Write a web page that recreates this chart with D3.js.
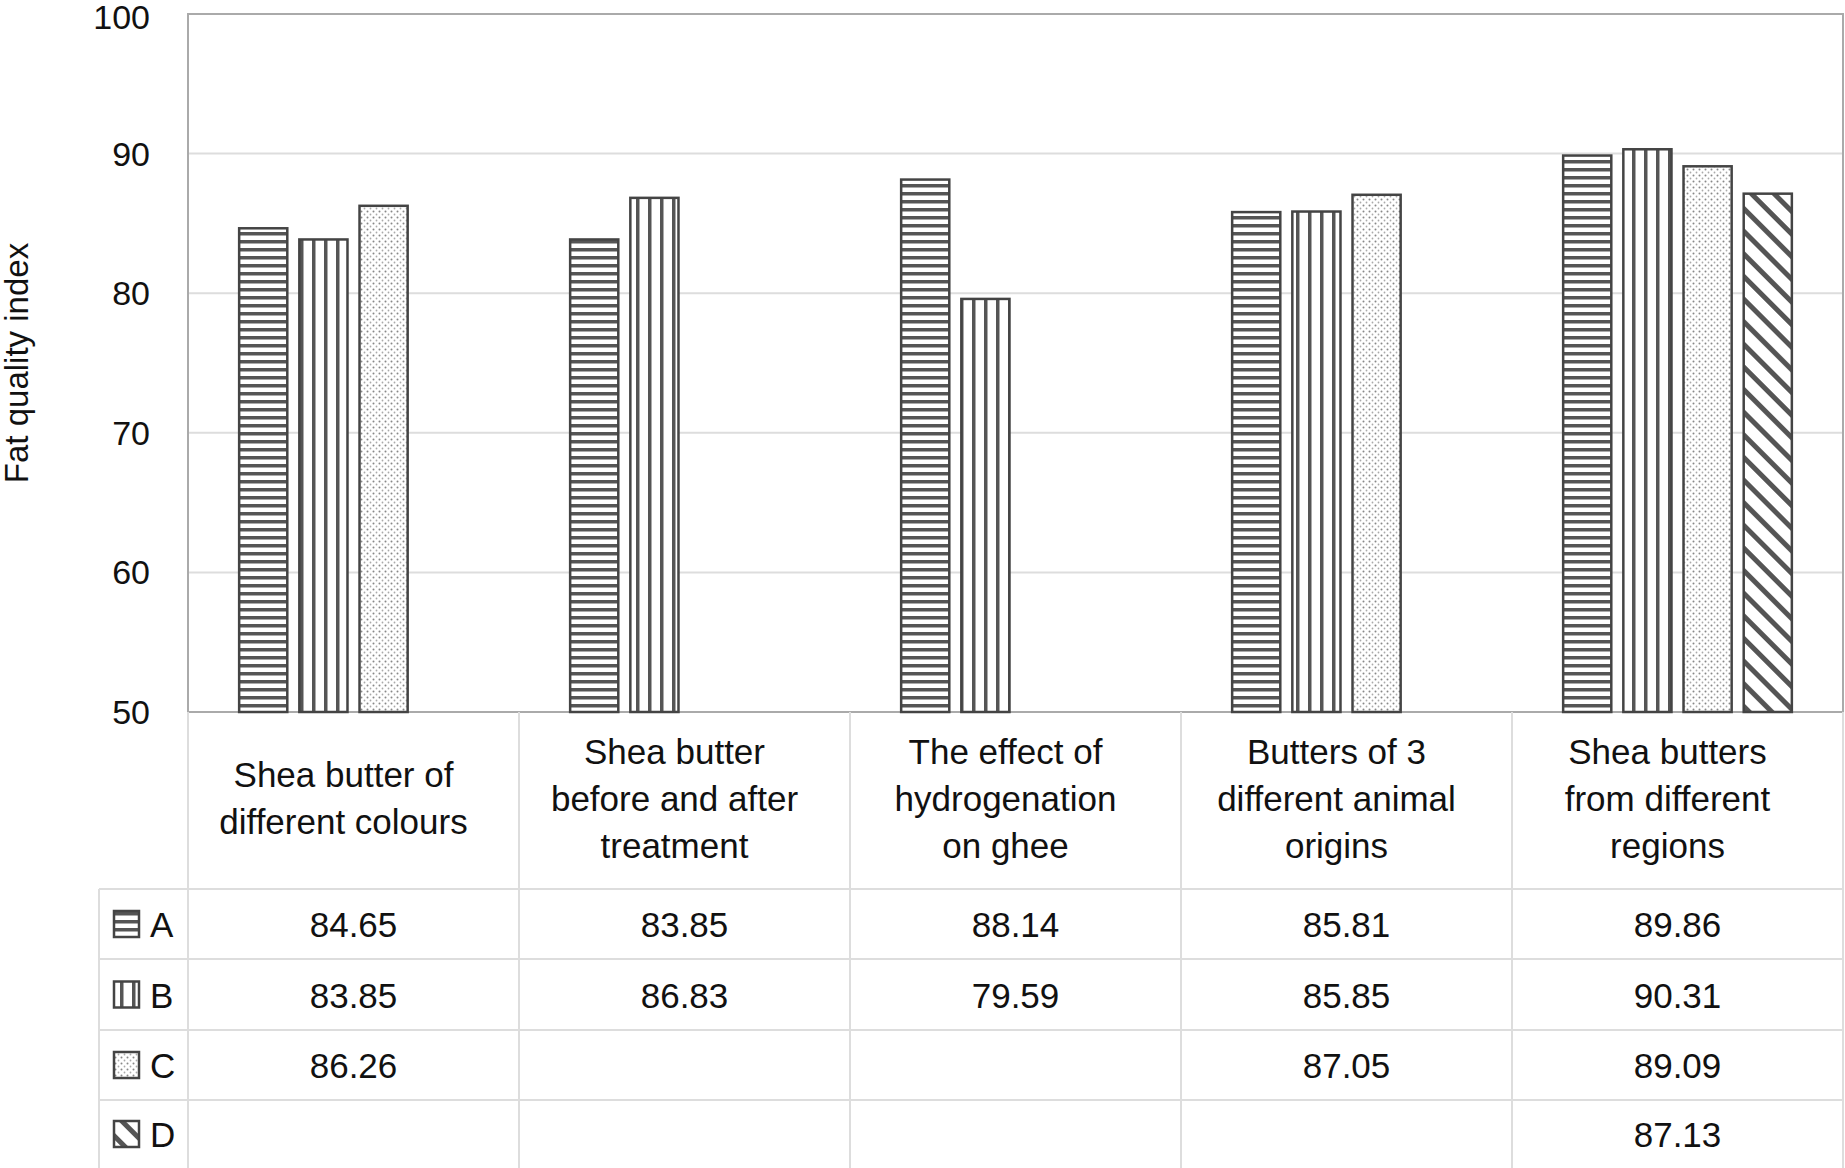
<!DOCTYPE html>
<html><head><meta charset="utf-8">
<script src="https://cdn.jsdelivr.net/npm/d3@7"></script>
<style>body{margin:0;background:#fff}svg{display:block}text{font-family:"Liberation Sans",Arial,sans-serif;fill:#111}</style>
</head><body><svg id="c" width="1845" height="1168"></svg>
<script>
const categories = [
  ["Shea butter of","different colours"],
  ["Shea butter","before and after","treatment"],
  ["The effect of","hydrogenation","on ghee"],
  ["Butters of 3","different animal","origins"],
  ["Shea butters","from different","regions"]
];
const seriesNames = ["A","B","C","D"];
const valuesA = [84.65, 83.85, 88.14, 85.81, 89.86];
const valuesB = [83.85, 86.83, 79.59, 85.85, 90.31];
const valuesC = [86.26, null, null, 87.05, 89.09];
const valuesD = [null, null, null, null, 87.13];
const yTicks = [50,60,70,80,90,100];
const series = [valuesA, valuesB, valuesC, valuesD];

const svg = d3.select("#c");
const L=188, R=1843, T=14, B=712;
const rowY=[889,959,1030,1100,1168];
const legL=99;
const x = d3.scaleBand().domain(d3.range(categories.length)).range([L,R]);
const inner = d3.scaleBand().domain(d3.range(4)).range([0,x.bandwidth()]).paddingInner(0.2).paddingOuter(0.85);
const y = d3.scaleLinear().domain([50,100]).range([B,T]);

const defs = svg.append("defs");
const ink="#555";
let p=defs.append("pattern").attr("id","pA").attr("patternUnits","userSpaceOnUse").attr("width",8).attr("height",8);
p.append("rect").attr("width",8).attr("height",8).attr("fill","#fff");
p.append("rect").attr("y",0).attr("width",8).attr("height",3.5).attr("fill",ink);
p=defs.append("pattern").attr("id","pB").attr("patternUnits","userSpaceOnUse").attr("width",12).attr("height",12);
p.append("rect").attr("width",12).attr("height",12).attr("fill","#fff");
p.append("rect").attr("x",0).attr("width",3.5).attr("height",12).attr("fill",ink);
p=defs.append("pattern").attr("id","pC").attr("patternUnits","userSpaceOnUse").attr("width",6).attr("height",6);
p.append("rect").attr("width",6).attr("height",6).attr("fill","#fff");
p.append("circle").attr("cx",1.5).attr("cy",1.5).attr("r",1).attr("fill","#888");
p.append("circle").attr("cx",4.5).attr("cy",4.5).attr("r",0.9).attr("fill","#aaa");
p=defs.append("pattern").attr("id","pD").attr("patternUnits","userSpaceOnUse").attr("width",16).attr("height",16).attr("patternTransform","rotate(45)");
p.append("rect").attr("width",16).attr("height",16).attr("fill","#fff");
p.append("rect").attr("width",16).attr("height",5).attr("fill",ink);
const pats=["pA","pB","pC","pD"];

svg.append("g").selectAll("line").data(yTicks.slice(1,-1)).join("line")
  .attr("x1",L).attr("x2",R).attr("y1",d=>y(d)).attr("y2",d=>y(d)).attr("stroke","#ddd").attr("stroke-width",2);
svg.append("rect").attr("x",L).attr("y",T).attr("width",R-L).attr("height",B-T).attr("fill","none").attr("stroke","#aaa").attr("stroke-width",2);
svg.append("g").selectAll("text").data(yTicks).join("text")
  .attr("x",L-38).attr("y",d=>Math.max(y(d)+12,29)).attr("text-anchor","end").attr("font-size",34).text(d=>d);
svg.append("text").attr("transform",`translate(28,${(T+B)/2})rotate(-90)`).attr("text-anchor","middle").attr("font-size",33).text("Fat quality index");

series.forEach((vals,si)=>{
  svg.append("g").selectAll("rect").data(vals.map((v,i)=>({v,i})).filter(d=>d.v!=null)).join("rect")
    .attr("x",d=>x(d.i)+inner(si)).attr("width",inner.bandwidth())
    .attr("y",d=>y(d.v)).attr("height",d=>B-y(d.v))
    .attr("fill",`url(#${pats[si]})`).attr("stroke","#444").attr("stroke-width",2.5);
});

const g=svg.append("g").attr("stroke","#ddd").attr("stroke-width",2);
x.domain().forEach(i=>g.append("line").attr("x1",x(i)).attr("x2",x(i)).attr("y1",B).attr("y2",1168));
g.append("line").attr("x1",R).attr("x2",R).attr("y1",B).attr("y2",1168);
g.append("line").attr("x1",legL).attr("x2",legL).attr("y1",rowY[0]).attr("y2",1168);
rowY.slice(0,4).forEach(yy=>g.append("line").attr("x1",legL).attr("x2",R).attr("y1",yy).attr("y2",yy));

categories.forEach((c,i)=>{
  const cx=x(i)+x.bandwidth()/2-10;
  const n=c.length, lh=47, mid=(B+rowY[0])/2+10;
  c.forEach((t,k)=>svg.append("text").attr("x",cx).attr("y",mid+(k-(n-1)/2)*lh).attr("text-anchor","middle").attr("font-size",35).text(t));
});
seriesNames.forEach((s,si)=>{
  const cy=(rowY[si]+rowY[si+1])/2;
  svg.append("rect").attr("x",114).attr("y",cy-13).attr("width",25).attr("height",26).attr("fill",`url(#${pats[si]})`).attr("stroke","#444").attr("stroke-width",2.5);
  svg.append("text").attr("x",150).attr("y",cy+13).attr("font-size",35).text(s);
  series[si].forEach((v,i)=>{ if(v!=null)
    svg.append("text").attr("x",x(i)+x.bandwidth()/2).attr("y",cy+13).attr("text-anchor","middle").attr("font-size",35).text(v.toFixed(2));});
});
</script></body></html>
